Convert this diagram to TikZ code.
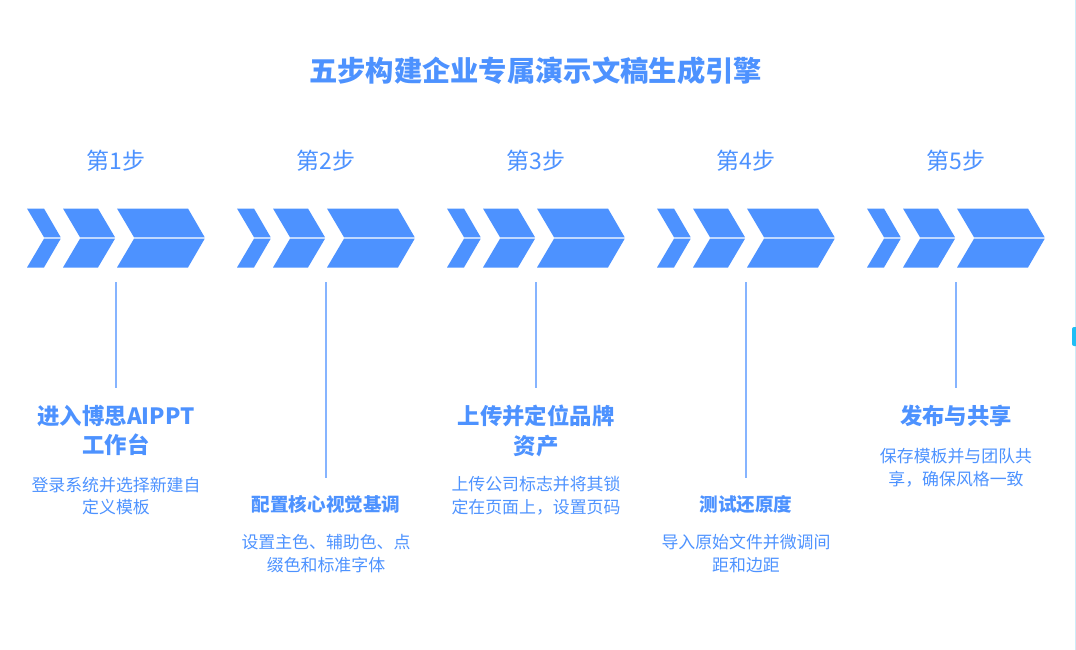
\documentclass[tikz,border=0pt]{standalone}
\usepackage{fontspec}
\setmainfont{Noto Sans CJK SC}
\definecolor{stepblue}{HTML}{4D92FF}
\definecolor{linkblue}{HTML}{86B4FF}
\definecolor{tabcyan}{HTML}{1FBEF5}
\definecolor{edgepale}{HTML}{CDEBF8}
\begin{document}
\begin{tikzpicture}[x=1pt, y=-1pt,
every node/.style = {align=center, color=stepblue, inner sep=0pt},
pagetitle/.style = {font=\fontsize{28.3}{34}\selectfont\bfseries},
steplabel/.style = {font=\fontsize{23}{28}\selectfont},
bighead/.style = {anchor=north, inner ysep=17pt, text width=176pt, font=\fontsize{22.4}{29.5}\selectfont\bfseries},
smallhead/.style = {anchor=north, inner ysep=17pt, text width=176pt, font=\fontsize{18.6}{24}\selectfont\bfseries},
desc/.style = {text width=176pt, font=\fontsize{16.9}{22.8}\selectfont},
link/.style = {draw=linkblue, line width=1.5pt},
chevrons/.pic = {
  \fill [stepblue] (0,-29.5) -- (17,-29.5) -- (33.7,-0.7) -- (17,-0.7) -- cycle
    (36,-29.5) -- (71,-29.5) -- (88,-0.7) -- (53,-0.7) -- cycle
    (90,-29.5) -- (161,-29.5) -- (177.7,-0.7) -- (107,-0.7) -- cycle;
  \fill [stepblue] (0,29.5) -- (17,29.5) -- (33.7,0.7) -- (17,0.7) -- cycle
    (36,29.5) -- (71,29.5) -- (88,0.7) -- (53,0.7) -- cycle
    (90,29.5) -- (161,29.5) -- (177.7,0.7) -- (107,0.7) -- cycle;
}
]
\useasboundingbox (0,0) rectangle (1076,650);

\node (pagehead) [pagetitle] at (535.5,71) {五步构建企业专属演示文稿生成引擎};

\node (label1) [steplabel] at (116,161) {第1步};
\node (label2) [steplabel] at (326,161) {第2步};
\node (label3) [steplabel] at (536,161) {第3步};
\node (label4) [steplabel] at (746,161) {第4步};
\node (label5) [steplabel] at (956,161) {第5步};

\pic at (27,238) {chevrons};
\pic at (237,238) {chevrons};
\pic at (447,238) {chevrons};
\pic at (657,238) {chevrons};
\pic at (867,238) {chevrons};

\coordinate (top1) at (116,282);
\coordinate (top2) at (326,282);
\coordinate (top3) at (536,282);
\coordinate (top4) at (746,282);
\coordinate (top5) at (956,282);

\node (head1) [bighead] at (116,388) {进入博思AIPPT\\工作台};
\node (head2) [smallhead] at (326,478) {配置核心视觉基调};
\node (head3) [bighead] at (536,388) {上传并定位品牌\\资产};
\node (head4) [smallhead] at (746,478) {测试还原度};
\node (head5) [bighead] at (956,388) {发布与共享};

\node (desc1) [desc] at (116,496) {登录系统并选择新建自\\定义模板};
\node (desc2) [desc] at (326,553.5) {设置主色、辅助色、点\\缀色和标准字体};
\node (desc3) [desc] at (536,496) {上传公司标志并将其锁\\定在页面上，设置页码};
\node (desc4) [desc] at (746,553.5) {导入原始文件并微调间\\距和边距};
\node (desc5) [desc] at (956,468) {保存模板并与团队共\\享，确保风格一致};

\draw [link] (top1) -- (head1.north);
\draw [link] (top2) -- (head2.north);
\draw [link] (top3) -- (head3.north);
\draw [link] (top4) -- (head4.north);
\draw [link] (top5) -- (head5.north);

% right edge of the page
\fill [edgepale] (1075,0) rectangle (1076,650);
\fill [tabcyan, rounded corners=2pt] (1072,327) rectangle (1078,346);
\end{tikzpicture}
\end{document}
